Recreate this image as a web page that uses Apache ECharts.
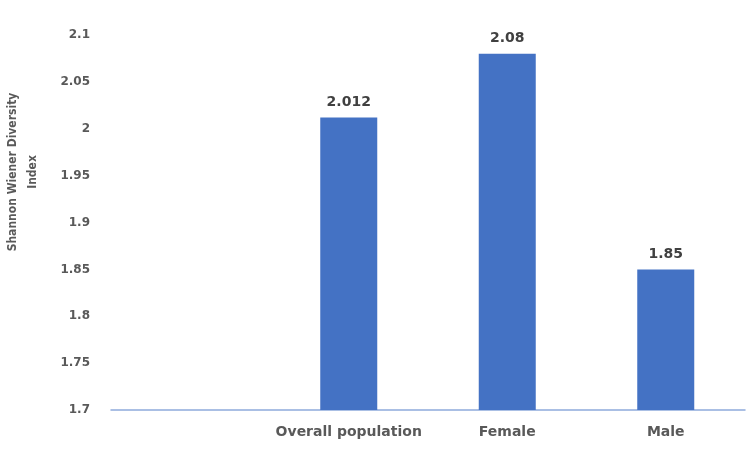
<!DOCTYPE html>
<html><head><meta charset="utf-8">
<script src="https://cdn.jsdelivr.net/npm/echarts@6/dist/echarts.min.js"></script>
<style>html,body{margin:0;padding:0;background:#fff}#c{width:754px;height:450px}</style>
</head><body><div id="c"></div>
<script>
var categories = ['', 'Overall population', 'Female', 'Male'];
var values = [null, 2.012, 2.08, 1.85];
var labels = ['', '2.012', '2.08', '1.85'];
var yMin = 1.7, yMax = 2.1, yStep = 0.05;

var FF = '"DejaVu Sans", sans-serif';
var FC = '"DejaVu Sans Condensed", "DejaVu Sans", sans-serif';
var chart = echarts.init(document.getElementById('c'));
chart.setOption({
  animation: false,
  grid: {left: 111, right: 9, top: 35, bottom: 40, containLabel: false},
  xAxis: {
    type: 'category', data: categories,
    axisLine: {lineStyle: {color: '#8FAADC', width: 1.5}},
    axisTick: {show: false},
    axisLabel: {interval: 0, color: '#595959', fontFamily: FF, fontWeight: 'bold', fontSize: 14, margin: 15}
  },
  yAxis: {
    type: 'value', min: yMin, max: yMax, interval: yStep,
    axisLine: {show: false}, axisTick: {show: false},
    splitLine: {show: false},
    axisLabel: {color: '#595959', fontFamily: FF, fontWeight: 'bold', fontSize: 12, margin: 21,
      formatter: function(v){ return String(parseFloat(v.toFixed(3))); }}
  },
  graphic: [{
    type: 'text', x: 23, y: 172, rotation: Math.PI/2,
    style: {text: 'Shannon Wiener Diversity\nIndex', fill: '#595959', font: 'bold 12px ' + FC, align: 'center', verticalAlign: 'middle', lineHeight: 20}
  }],
  series: [{
    type: 'bar', data: values, barWidth: 57,
    itemStyle: {color: '#4472C4'},
    label: {show: true, position: 'top', distance: 8, color: '#404040', fontFamily: FF, fontWeight: 'bold', fontSize: 14,
      formatter: function(p){ return labels[p.dataIndex]; }}
  }]
});
</script></body></html>
